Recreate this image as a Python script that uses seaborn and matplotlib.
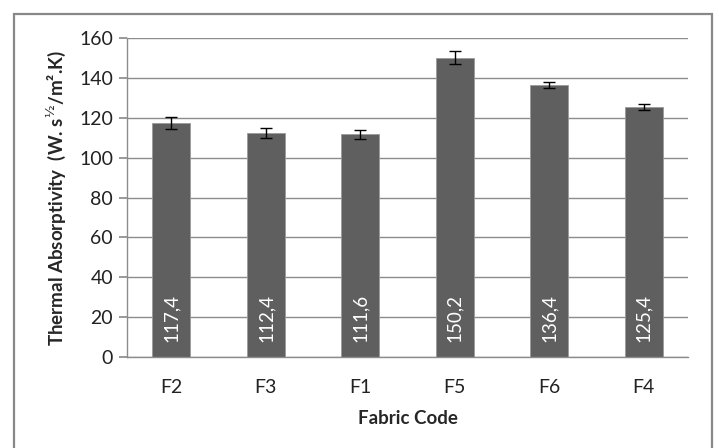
import matplotlib
matplotlib.use("Agg")
import matplotlib.pyplot as plt
import pandas as pd
import seaborn as sns
from matplotlib.patches import Rectangle

# values
fabric_codes = ["F2", "F3", "F1", "F5", "F6", "F4"]
absorptivity = [117.4, 112.4, 111.6, 150.2, 136.4, 125.4]
abs_error = [3.0, 2.5, 2.3, 3.4, 1.6, 1.7]
y_ticks = [0, 20, 40, 60, 80, 100, 120, 140, 160]

BAR_COLOR = "#5f5f5f"
GRID_COLOR = "#8c8c8c"

sns.set_theme(style="white")
plt.rcParams["font.family"] = ["Lato", "DejaVu Sans"]
plt.rcParams["mathtext.fontset"] = "dejavusans"

df = pd.DataFrame({"code": fabric_codes, "value": absorptivity, "err": abs_error})

fig = plt.figure(figsize=(7.19, 4.48), dpi=100)
ax = fig.add_axes([0.1766, 0.2031, 0.7803, 0.7121])

sns.barplot(data=df, x="code", y="value", order=fabric_codes, color=BAR_COLOR,
            saturation=1, width=0.4, errorbar=None, edgecolor="#9a9a9a",
            linewidth=0.6, ax=ax, zorder=2)
ax.errorbar(range(len(df)), df["value"], yerr=df["err"], fmt="none",
            ecolor="black", elinewidth=1.0, capsize=4.5, capthick=1.0, zorder=3)

# value labels written vertically inside the bars, near the base
for i, v in enumerate(df["value"]):
    ax.text(i, 7.5, f"{v:.1f}".replace(".", ","), rotation=90, ha="center",
            va="bottom", color="white", fontsize=13.5, zorder=4)

ax.set_ylim(0, 160)
ax.set_yticks(y_ticks)
ax.yaxis.grid(True, color=GRID_COLOR, linewidth=1.0, zorder=0)
ax.set_axisbelow(True)
for side in ("top", "right"):
    ax.spines[side].set_visible(False)
for side in ("left", "bottom"):
    ax.spines[side].set_color(GRID_COLOR)
    ax.spines[side].set_linewidth(1.0)
ax.tick_params(axis="y", left=True, length=6, color=GRID_COLOR, labelsize=14,
               labelcolor="#222222", pad=4)
ax.tick_params(axis="x", bottom=False, labelsize=14, labelcolor="#222222", pad=9.5)

ax.set_xlabel("Fabric Code", fontsize=13.5, fontweight="bold", labelpad=10.5)
ax.set_ylabel("Thermal Absorptivity  (W. s$^{½}$/m².K)", fontsize=13.5,
              fontweight="bold", labelpad=8)

# outer chart frame
fig.patches.append(Rectangle((14 / 719, -0.05), (712 - 14) / 719, (448 - 14) / 448 + 0.05,
                             transform=fig.transFigure, fill=False,
                             edgecolor="#888888", linewidth=1.6))

fig.savefig("out.png", dpi=100)
plt.close(fig)
